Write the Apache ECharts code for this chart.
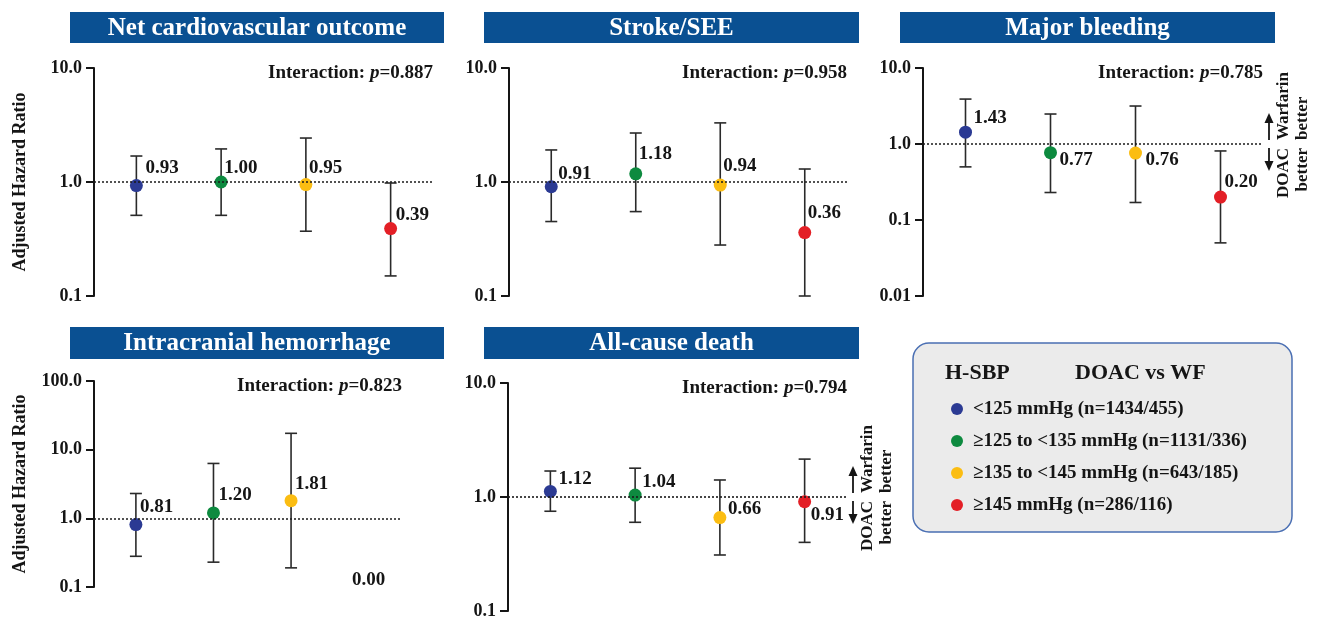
<!DOCTYPE html>
<html>
<head>
<meta charset="utf-8">
<script src="https://cdn.jsdelivr.net/npm/echarts@6/dist/echarts.min.js"></script>
<style>
  html, body { margin: 0; padding: 0; background: #ffffff; }
  #chart { width: 1319px; height: 620px; }
</style>
</head>
<body>
<div id="chart"></div>
<script>
// ---- Data: adjusted hazard ratios (DOAC vs warfarin) by home systolic BP group ----
const groupLabels = ['<125 mmHg (n=1434/455)', '\u2265125 to <135 mmHg (n=1131/336)',
                     '\u2265135 to <145 mmHg (n=643/185)', '\u2265145 mmHg (n=286/116)'];
const outcomeTitles = ['Net cardiovascular outcome', 'Stroke/SEE', 'Major bleeding',
                       'Intracranial hemorrhage', 'All-cause death'];
const interactionP = ['0.887', '0.958', '0.785', '0.823', '0.794'];

const hrNetCV     = [0.93, 1.00, 0.95, 0.39];
const lowerNetCV  = [0.51, 0.51, 0.37, 0.15];
const upperNetCV  = [1.69, 1.95, 2.43, 0.98];

const hrStroke    = [0.91, 1.18, 0.94, 0.36];
const lowerStroke = [0.45, 0.55, 0.28, 0.10];
const upperStroke = [1.91, 2.69, 3.30, 1.30];

const hrMajor     = [1.43, 0.77, 0.76, 0.20];
const lowerMajor  = [0.50, 0.23, 0.17, 0.05];
const upperMajor  = [3.90, 2.48, 3.16, 0.81];

const hrICH       = [0.81, 1.20, 1.81, 0.00];
const lowerICH    = [0.28, 0.23, 0.19, null];
const upperICH    = [2.30, 6.30, 17.3, null];

const hrDeath     = [1.12, 1.04, 0.66, 0.91];
const lowerDeath  = [0.75, 0.60, 0.31, 0.40];
const upperDeath  = [1.69, 1.79, 1.41, 2.15];

// y-axis ranges (log scale) per outcome
const axisMin = [0.1, 0.1, 0.01, 0.1, 0.1];
const axisMax = [10, 10, 10, 100, 10];

const hrSets    = [hrNetCV, hrStroke, hrMajor, hrICH, hrDeath];
const lowerSets = [lowerNetCV, lowerStroke, lowerMajor, lowerICH, lowerDeath];
const upperSets = [upperNetCV, upperStroke, upperMajor, upperICH, upperDeath];

// ---- Layout / style ----
const groupColors = ['#2b3a93', '#0d8a3f', '#fbbd12', '#e31f26'];
const SERIF = '"Liberation Serif", "Times New Roman", serif';
const INK = '#151515';

const panels = [
  { left: 94,  top: 68,  width: 339, height: 228, xMin: -0.5,  xMax: 3.5,  yName: true,  bar: [70, 12, 374, 31] },
  { left: 509, top: 68,  width: 338, height: 228, xMin: -0.5,  xMax: 3.5,  yName: false, bar: [484, 12, 375, 31] },
  { left: 923, top: 68,  width: 340, height: 228, xMin: -0.5,  xMax: 3.5,  yName: false, bar: [900, 12, 375, 31], note: true },
  { left: 94,  top: 381, width: 308, height: 206, xMin: -0.54, xMax: 3.43, yName: true,  bar: [70, 327, 374, 32] },
  { left: 508, top: 383, width: 339, height: 229, xMin: -0.5,  xMax: 3.5,  yName: false, bar: [484, 327, 375, 32], note: true }
];
// value-label shifts [dx from point centre to label's left edge, dy of label centre]
const labelShift = [
  [[9, -17], [3, -14], [3, -16], [5, -14]],
  [[7, -13], [3, -20], [3, -19], [3, -19]],
  [[8, -14], [9, 7], [10, 7], [4, -15]],
  [[4, -18], [5, -18], [4, -17], [0, -7]],
  [[8, -12], [7, -13], [8, -8], [6, 13]]
];

const grids = [], xAxes = [], yAxes = [], series = [];

panels.forEach((p, k) => {
  grids.push({ left: p.left, top: p.top, width: p.width, height: p.height, containLabel: false });
  xAxes.push({ gridIndex: k, type: 'value', min: p.xMin, max: p.xMax, show: false });
  yAxes.push({
    gridIndex: k, type: 'log', logBase: 10, min: axisMin[k], max: axisMax[k],
    name: p.yName ? 'Adjusted Hazard Ratio' : '',
    nameLocation: 'middle', nameRotate: 90, nameGap: 65,
    nameTextStyle: { fontFamily: SERIF, fontWeight: 'bold', fontSize: 18, color: INK },
    axisLine: { show: true, onZero: false, lineStyle: { color: INK, width: 2 } },
    axisTick: { show: true, length: 8, lineStyle: { color: INK, width: 2 } },
    minorTick: { show: false },
    splitLine: { show: false },
    axisLabel: {
      margin: 12, fontFamily: SERIF, fontWeight: 'bold', fontSize: 18, color: INK,
      formatter: v => (v < 0.09 ? v.toFixed(2) : v.toFixed(1))
    }
  });

  const hr = hrSets[k], lo = lowerSets[k], hi = upperSets[k];

  // confidence-interval whiskers
  series.push({
    type: 'custom', xAxisIndex: k, yAxisIndex: k, silent: true, z: 2,
    encode: { x: 0, y: [1, 2] },
    data: hr.map((v, i) => [i, lo[i], hi[i]]).filter(d => d[1] != null && d[2] != null),
    renderItem: (params, api) => {
      const a = api.coord([api.value(0), api.value(1)]);
      const b = api.coord([api.value(0), api.value(2)]);
      const cap = 6;
      const st = { stroke: '#2a2a2a', lineWidth: 1.6 };
      return {
        type: 'group', children: [
          { type: 'line', shape: { x1: a[0], y1: a[1], x2: b[0], y2: b[1] }, style: st },
          { type: 'line', shape: { x1: a[0] - cap, y1: a[1], x2: a[0] + cap, y2: a[1] }, style: st },
          { type: 'line', shape: { x1: b[0] - cap, y1: b[1], x2: b[0] + cap, y2: b[1] }, style: st }
        ]
      };
    }
  });

  // point estimates with value labels, plus the HR = 1 reference line
  const pts = [];
  hr.forEach((v, i) => {
    const sh = labelShift[k][i];
    if (v > 0) {
      pts.push({
        value: [i, v], itemStyle: { color: groupColors[i], opacity: 1 },
        label: { position: 'right', distance: 0, offset: [sh[0] - 6.5, sh[1]] }
      });
    } else {
      // estimate not estimable on a log scale: value shown at the axis floor
      pts.push({
        value: [i, axisMin[k]], symbolSize: 0,
        label: { position: 'inside', align: 'center', offset: [sh[0], sh[1]], formatter: () => v.toFixed(2) }
      });
    }
  });
  series.push({
    type: 'scatter', xAxisIndex: k, yAxisIndex: k, z: 3, symbol: 'circle', symbolSize: 13,
    silent: true,
    itemStyle: { opacity: 1 },
    data: pts,
    label: {
      show: true, fontFamily: SERIF, fontWeight: 'bold', fontSize: 19, color: INK,
      align: 'left', verticalAlign: 'middle',
      formatter: prm => prm.value[1].toFixed(2)
    },
    markLine: {
      silent: true, symbol: 'none', animation: false,
      label: { show: false },
      lineStyle: { type: [2, 2], color: '#1a1a1a', width: 1.6 },
      data: [{ yAxis: 1 }]
    }
  });
});

const chart = echarts.init(document.getElementById('chart'), null, { renderer: 'canvas' });
chart.setOption({
  animation: false,
  backgroundColor: '#ffffff',
  grid: grids, xAxis: xAxes, yAxis: yAxes, series: series
});

// ---- Decorations: title bars, interaction p-values, direction notes, legend ----
const graphics = [];
const boldText = (size) => ({ fontFamily: SERIF, fontWeight: 'bold', fontSize: size, fill: INK });

panels.forEach((p, k) => {
  const [bx, by, bw, bh] = p.bar;
  graphics.push({ type: 'rect', shape: { x: bx, y: by, width: bw, height: bh }, style: { fill: '#0a5092' } });
  graphics.push({
    type: 'text', x: bx + bw / 2, y: by + bh / 2 + 1,
    style: Object.assign(boldText(25), { text: outcomeTitles[k], fill: '#ffffff', align: 'center', verticalAlign: 'middle' })
  });
  graphics.push({
    type: 'text', x: p.left + p.width, y: p.top + 5,
    style: {
      text: '{b|Interaction: }{i|p}{b|=' + interactionP[k] + '}',
      align: 'right', verticalAlign: 'middle',
      rich: {
        b: { fontFamily: SERIF, fontWeight: 'bold', fontSize: 19, fill: INK },
        i: { fontFamily: SERIF, fontWeight: 'bold', fontStyle: 'italic', fontSize: 19, fill: INK }
      }
    }
  });

  if (p.note) {
    const yRef = chart.convertToPixel({ yAxisIndex: k }, 1);
    const ax = p.left + p.width + 6;
    const st = { stroke: INK, lineWidth: 1.8 };
    graphics.push({ type: 'line', shape: { x1: ax, y1: yRef - 4, x2: ax, y2: yRef - 22 }, style: st });
    graphics.push({ type: 'polygon', shape: { points: [[ax, yRef - 31], [ax - 4.5, yRef - 21], [ax + 4.5, yRef - 21]] }, style: { fill: INK } });
    graphics.push({ type: 'line', shape: { x1: ax, y1: yRef + 4, x2: ax, y2: yRef + 18 }, style: st });
    graphics.push({ type: 'polygon', shape: { points: [[ax, yRef + 27], [ax - 4.5, yRef + 17], [ax + 4.5, yRef + 17]] }, style: { fill: INK } });
    graphics.push({
      type: 'text', x: ax + 24, y: yRef - 4, rotation: Math.PI / 2,
      style: Object.assign(boldText(17), { text: 'Warfarin\nbetter', align: 'left', verticalAlign: 'middle', lineHeight: 19 })
    });
    graphics.push({
      type: 'text', x: ax + 24, y: yRef + 4, rotation: Math.PI / 2,
      style: Object.assign(boldText(17), { text: 'DOAC\nbetter', align: 'right', verticalAlign: 'middle', lineHeight: 19 })
    });
  }
});

// legend panel
graphics.push({
  type: 'rect', shape: { x: 913, y: 343, width: 379, height: 189, r: 16 },
  style: { fill: '#ebebeb', stroke: '#4a6fb3', lineWidth: 1.5 }
});
graphics.push({ type: 'text', x: 945, y: 373, style: Object.assign(boldText(22), { text: 'H-SBP', verticalAlign: 'middle' }) });
graphics.push({ type: 'text', x: 1075, y: 373, style: Object.assign(boldText(22), { text: 'DOAC vs WF', verticalAlign: 'middle' }) });
const legendRows = [409, 441, 473, 505];
groupLabels.forEach((g, i) => {
  graphics.push({ type: 'circle', shape: { cx: 957, cy: legendRows[i], r: 6 }, style: { fill: groupColors[i] } });
  graphics.push({ type: 'text', x: 973, y: legendRows[i], style: Object.assign(boldText(19), { text: g, verticalAlign: 'middle' }) });
});

chart.setOption({ graphic: { elements: graphics } });
</script>
</body>
</html>
